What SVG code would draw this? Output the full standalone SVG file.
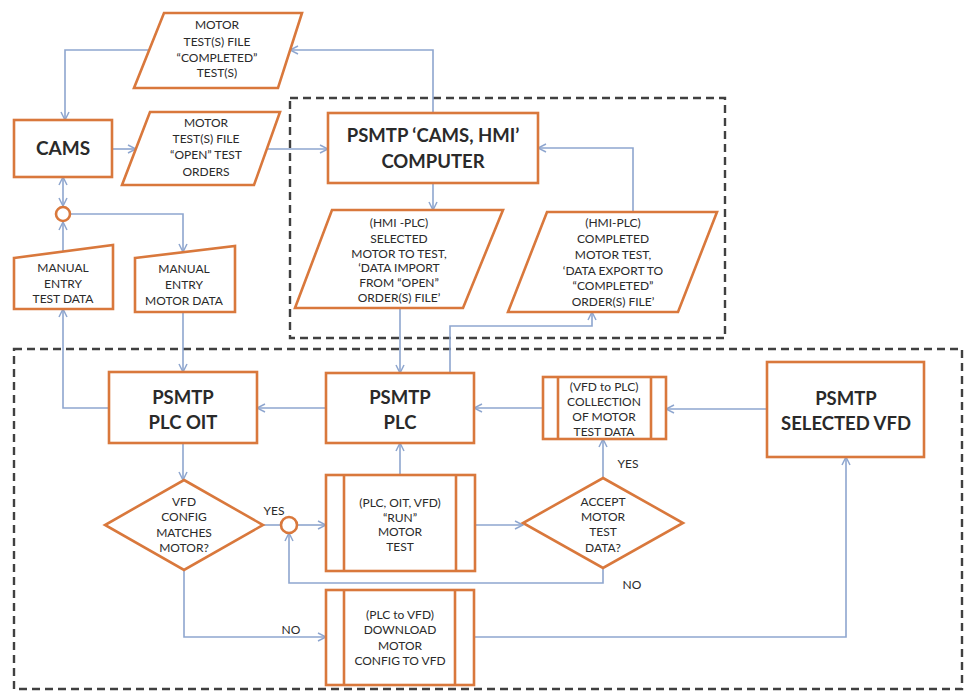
<svg xmlns="http://www.w3.org/2000/svg" width="971" height="692" viewBox="0 0 971 692">
<defs>
<marker id="ah" markerWidth="10" markerHeight="10" refX="9" refY="5" orient="auto-start-reverse" markerUnits="userSpaceOnUse">
<path d="M1,1 L9,5 L1,9" fill="none" stroke="#8ea6cf" stroke-width="1.5"/>
</marker>
<style>
.n{fill:#fff;stroke:#d9783c;stroke-width:2.6}
.ln{fill:none;stroke:#8ea6cf;stroke-width:1.6}
.dash{fill:none;stroke:#404040;stroke-width:2.4;stroke-dasharray:8 5}
.s{font-family:Lato,"Liberation Sans",sans-serif;font-size:12px;fill:#2a2a2a;text-anchor:middle}
.b{font-family:Lato,"Liberation Sans",sans-serif;font-size:18.5px;font-weight:bold;fill:#2a2a2a;text-anchor:middle}
</style>
</defs>
<rect width="971" height="692" fill="#fff"/>
<rect class="dash" x="290" y="98" width="435" height="240"/>
<rect class="dash" x="14" y="349" width="948" height="340"/>

<g id="connectors">
<path class="ln" d="M433,113 V50 H290" marker-end="url(#ah)"/>
<path class="ln" d="M149,50 H65 V120" marker-end="url(#ah)"/>
<path class="ln" d="M112,149 H136" marker-end="url(#ah)"/>
<path class="ln" d="M267,149 H328" marker-end="url(#ah)"/>
<path class="ln" d="M433,183 V210" marker-end="url(#ah)"/>
<path class="ln" d="M400,308 V373" marker-end="url(#ah)"/>
<path class="ln" d="M450,373 V326 H592 V312" marker-end="url(#ah)"/>
<path class="ln" d="M633,212 V148 H538" marker-end="url(#ah)"/>
<path class="ln" d="M543,408 H474" marker-end="url(#ah)"/>
<path class="ln" d="M767,409 H666" marker-end="url(#ah)"/>
<path class="ln" d="M326,408 H257" marker-end="url(#ah)"/>
<path class="ln" d="M109,408 H63 V309" marker-end="url(#ah)"/>
<path class="ln" d="M63,251 V222" marker-end="url(#ah)"/>
<path class="ln" d="M63,206 V177" marker-start="url(#ah)" marker-end="url(#ah)"/>
<path class="ln" d="M70,214 H183 V252" marker-end="url(#ah)"/>
<path class="ln" d="M183,312 V372" marker-end="url(#ah)"/>
<path class="ln" d="M183,443 V480" marker-end="url(#ah)"/>
<path class="ln" d="M263,525 H281"/>
<path class="ln" d="M297,525 H326" marker-end="url(#ah)"/>
<path class="ln" d="M475,525 H523" marker-end="url(#ah)"/>
<path class="ln" d="M603,478 V439" marker-end="url(#ah)"/>
<path class="ln" d="M603,568 V583 H289 V533" marker-end="url(#ah)"/>
<path class="ln" d="M400,475 V443" marker-end="url(#ah)"/>
<path class="ln" d="M184,570 V637 H326" marker-end="url(#ah)"/>
<path class="ln" d="M474,637 H846 V457" marker-end="url(#ah)"/>
<text class="s" x="274" y="515">YES</text>
<text class="s" x="628" y="468">YES</text>
<text class="s" x="632" y="589">NO</text>
<text class="s" x="291" y="634">NO</text>
</g>

<g id="completed-file">
<polygon class="n" points="164,13 302,13 278,88 134,88"/>
<text class="s" x="217" y="29">MOTOR</text>
<text class="s" x="217" y="46">TEST(S) FILE</text>
<text class="s" x="217" y="62">“COMPLETED”</text>
<text class="s" x="217" y="77">TEST(S)</text>
</g>

<g id="cams">
<rect class="n" x="14" y="120" width="98" height="57"/>
<text class="b" x="63" y="155" style="font-size:19px">CAMS</text>
</g>

<g id="open-file">
<polygon class="n" points="150,112 280,112 254,185 122,185"/>
<text class="s" x="206" y="127">MOTOR</text>
<text class="s" x="206" y="143">TEST(S) FILE</text>
<text class="s" x="206" y="159">“OPEN” TEST</text>
<text class="s" x="206" y="176">ORDERS</text>
</g>

<g id="computer">
<rect class="n" x="328" y="113" width="210" height="70"/>
<text class="b" x="433" y="142">PSMTP ‘CAMS, HMI’</text>
<text class="b" x="433" y="168">COMPUTER</text>
</g>

<g id="hmi-import">
<polygon class="n" points="332,210 503,210 463,308 295,308"/>
<text class="s" x="399" y="227">(HMI -PLC)</text>
<text class="s" x="399" y="243">SELECTED</text>
<text class="s" x="399" y="258">MOTOR TO TEST,</text>
<text class="s" x="399" y="272">‘DATA IMPORT</text>
<text class="s" x="399" y="287">FROM “OPEN”</text>
<text class="s" x="399" y="302">ORDER(S) FILE’</text>
</g>

<g id="hmi-export">
<polygon class="n" points="547,212 717,212 678,312 508,312"/>
<text class="s" x="613" y="227">(HMI-PLC)</text>
<text class="s" x="613" y="243">COMPLETED</text>
<text class="s" x="613" y="259">MOTOR TEST,</text>
<text class="s" x="613" y="275">‘DATA EXPORT TO</text>
<text class="s" x="613" y="290">“COMPLETED”</text>
<text class="s" x="613" y="306">ORDER(S)  FILE’</text>
</g>

<g id="manual-test">
<polygon class="n" points="14,258 113,245 113,309 14,309"/>
<text class="s" x="63" y="272">MANUAL</text>
<text class="s" x="63" y="288">ENTRY</text>
<text class="s" x="63" y="303">TEST DATA</text>
</g>

<g id="manual-motor">
<polygon class="n" points="135,258 235,246 235,312 135,312"/>
<text class="s" x="184" y="273">MANUAL</text>
<text class="s" x="184" y="289">ENTRY</text>
<text class="s" x="184" y="305">MOTOR DATA</text>
</g>

<g id="junction-top">
<circle class="n" cx="63" cy="214" r="7"/>
</g>

<g id="plc-oit">
<rect class="n" x="109" y="372" width="148" height="71"/>
<text class="b" x="183" y="404">PSMTP</text>
<text class="b" x="183" y="429">PLC OIT</text>
</g>

<g id="plc">
<rect class="n" x="326" y="373" width="148" height="70"/>
<text class="b" x="400" y="404">PSMTP</text>
<text class="b" x="400" y="429">PLC</text>
</g>

<g id="collection">
<rect class="n" x="543" y="377" width="123" height="62"/>
<line class="n" x1="558" y1="377" x2="558" y2="439"/>
<line class="n" x1="651" y1="377" x2="651" y2="439"/>
<text class="s" x="604" y="391">(VFD to PLC)</text>
<text class="s" x="604" y="406">COLLECTION</text>
<text class="s" x="604" y="421">OF MOTOR</text>
<text class="s" x="604" y="436">TEST DATA</text>
</g>

<g id="selected-vfd">
<rect class="n" x="767" y="362" width="157" height="95"/>
<text class="b" x="846" y="405">PSMTP</text>
<text class="b" x="846" y="430">SELECTED VFD</text>
</g>

<g id="vfd-config">
<polygon class="n" points="184,480 263,525 184,570 105,525"/>
<text class="s" x="184" y="506">VFD</text>
<text class="s" x="184" y="521">CONFIG</text>
<text class="s" x="184" y="537">MATCHES</text>
<text class="s" x="184" y="552">MOTOR?</text>
</g>

<g id="junction-yes">
<circle class="n" cx="289" cy="525" r="8"/>
</g>

<g id="run-test">
<rect class="n" x="326" y="475" width="149" height="96"/>
<line class="n" x1="344" y1="475" x2="344" y2="571"/>
<line class="n" x1="456" y1="475" x2="456" y2="571"/>
<text class="s" x="400" y="507">(PLC, OIT, VFD)</text>
<text class="s" x="400" y="522">“RUN”</text>
<text class="s" x="400" y="536">MOTOR</text>
<text class="s" x="400" y="551">TEST</text>
</g>

<g id="accept">
<polygon class="n" points="603,478 683,523 603,568 523,523"/>
<text class="s" x="603" y="506">ACCEPT</text>
<text class="s" x="603" y="521">MOTOR</text>
<text class="s" x="603" y="536">TEST</text>
<text class="s" x="603" y="552">DATA?</text>
</g>

<g id="download">
<rect class="n" x="326" y="590" width="148" height="95"/>
<line class="n" x1="344" y1="590" x2="344" y2="685"/>
<line class="n" x1="455" y1="590" x2="455" y2="685"/>
<text class="s" x="400" y="619">(PLC to VFD)</text>
<text class="s" x="400" y="634">DOWNLOAD</text>
<text class="s" x="400" y="650">MOTOR</text>
<text class="s" x="400" y="665">CONFIG TO VFD</text>
</g>
</svg>
